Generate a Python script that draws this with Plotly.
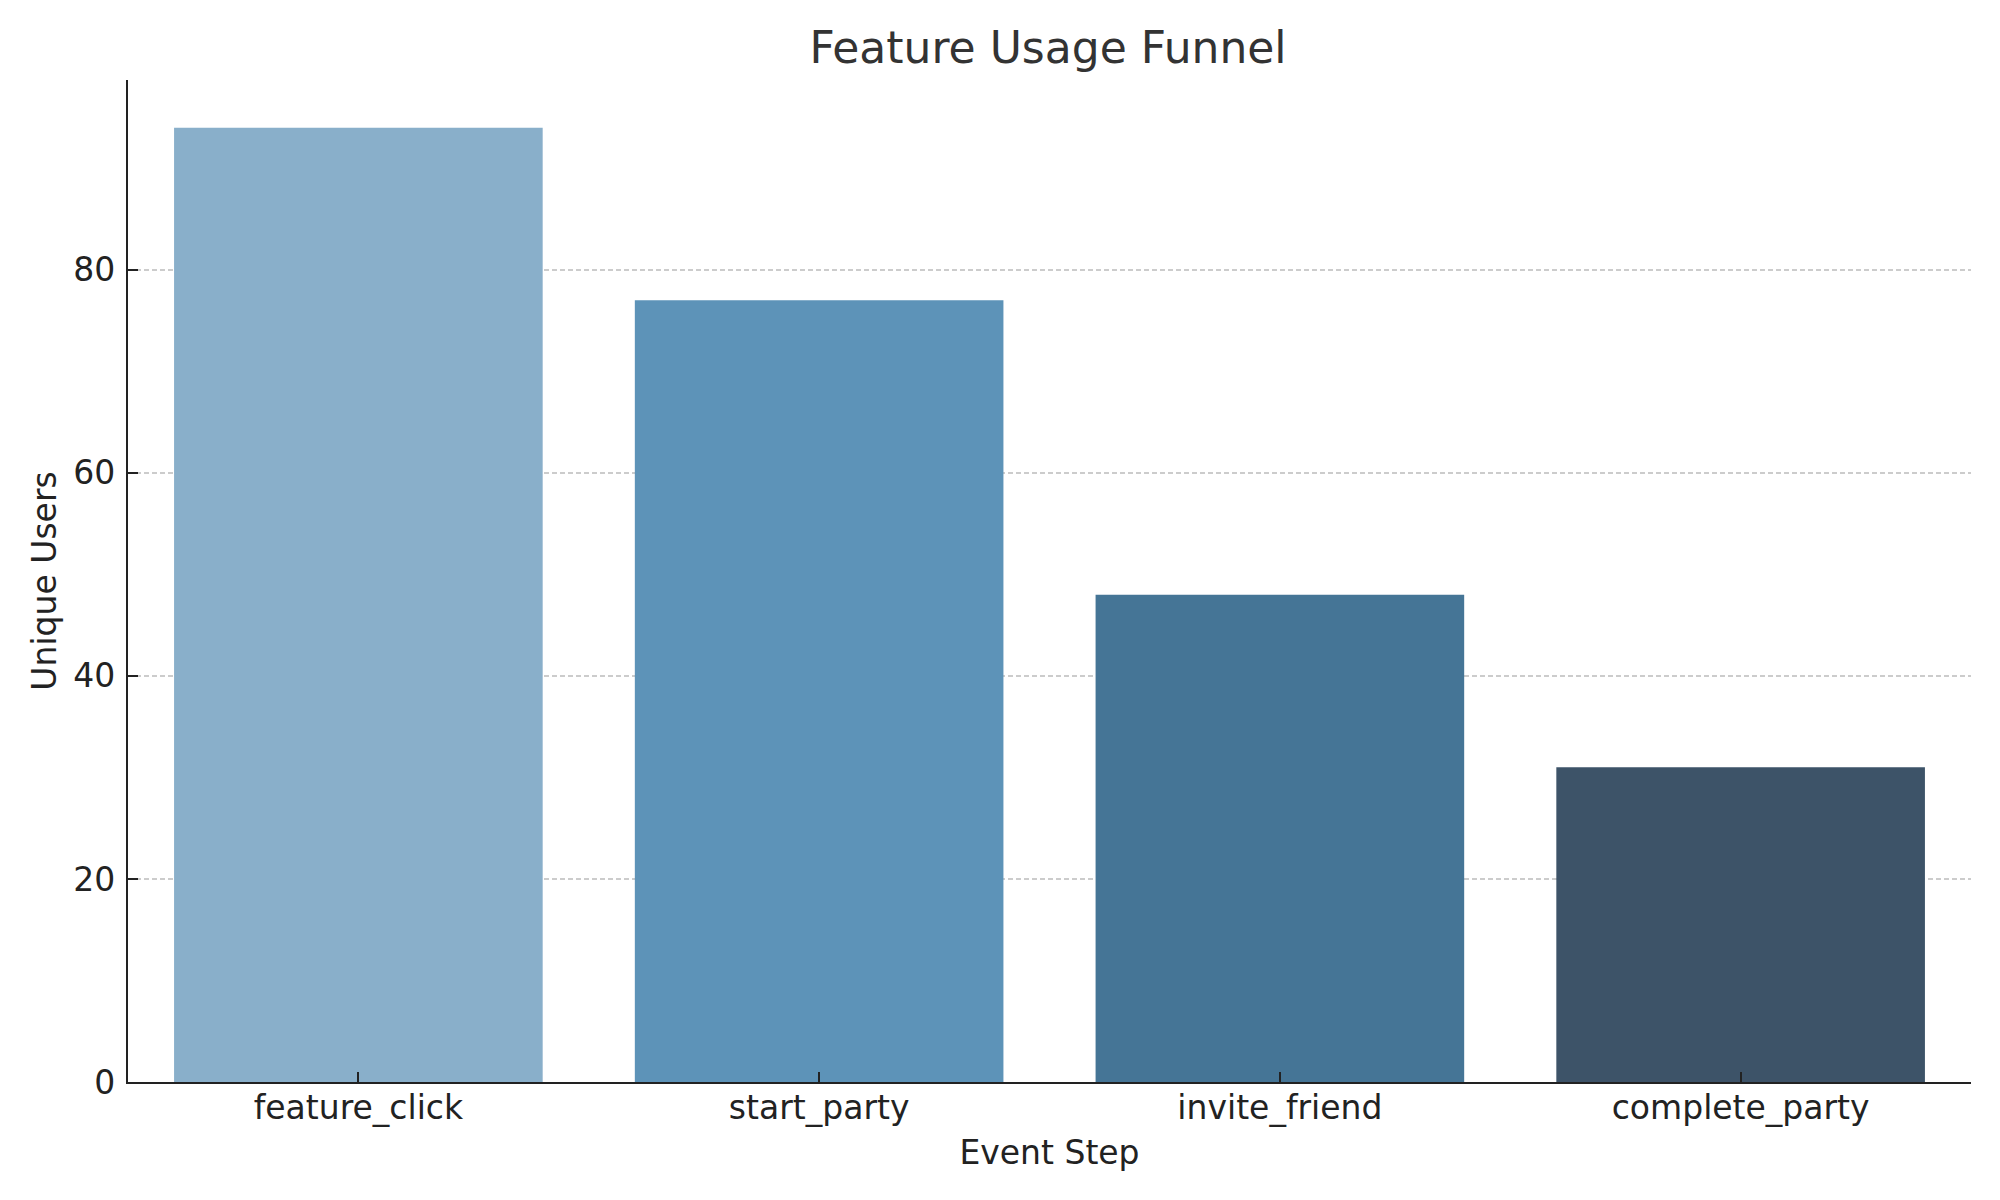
import plotly.graph_objects as go

steps = ["feature_click", "start_party", "invite_friend", "complete_party"]
users = [94, 77, 48, 31]
bar_colors = ["#89afca", "#5d93b8", "#457596", "#3d5368"]
y_ticks = [0, 20, 40, 60, 80]

FONT = "DejaVu Sans"
W, H = 1984, 1184

fig = go.Figure()
fig.add_trace(go.Bar(
    x=steps, y=users, width=0.8,
    marker=dict(color=bar_colors, line=dict(width=0)),
    showlegend=False,
))

fig.update_layout(
    width=W, height=H,
    paper_bgcolor="white", plot_bgcolor="white",
    margin=dict(l=120, r=21, t=72, b=110),
    font=dict(family=FONT, size=33, color="#222222"),
    title=dict(text="Feature Usage Funnel", x=1040 / W, xanchor="center",
               y=1 - 40 / H, yanchor="middle",
               font=dict(family=FONT, size=44, color="#333333")),
    bargap=0.2,
)

fig.update_xaxes(
    range=[-0.5, 3.5],
    showline=True, linecolor="#222222", linewidth=2.2,
    ticks="inside", ticklen=10, tickwidth=1.5, tickcolor="#222222",
    showgrid=False, zeroline=False,
    tickfont=dict(family=FONT, size=33, color="#222222"),
    ticklabelstandoff=-5,
    title=dict(text="Event Step", standoff=15,
               font=dict(family=FONT, size=33, color="#222222")),
)
fig.update_yaxes(
    range=[0, 98.7],
    tickvals=y_ticks,
    showline=True, linecolor="#222222", linewidth=2.2,
    ticks="inside", ticklen=10, tickwidth=2, tickcolor="#222222",
    showgrid=True, gridcolor="#cccccc", gridwidth=1.6, griddash="5px,3px",
    zeroline=False,
    tickfont=dict(family=FONT, size=33, color="#222222"),
    ticklabelstandoff=4,
    title=dict(text="Unique Users", standoff=7,
               font=dict(family=FONT, size=33, color="#222222")),
)

fig.write_html("out.html")
